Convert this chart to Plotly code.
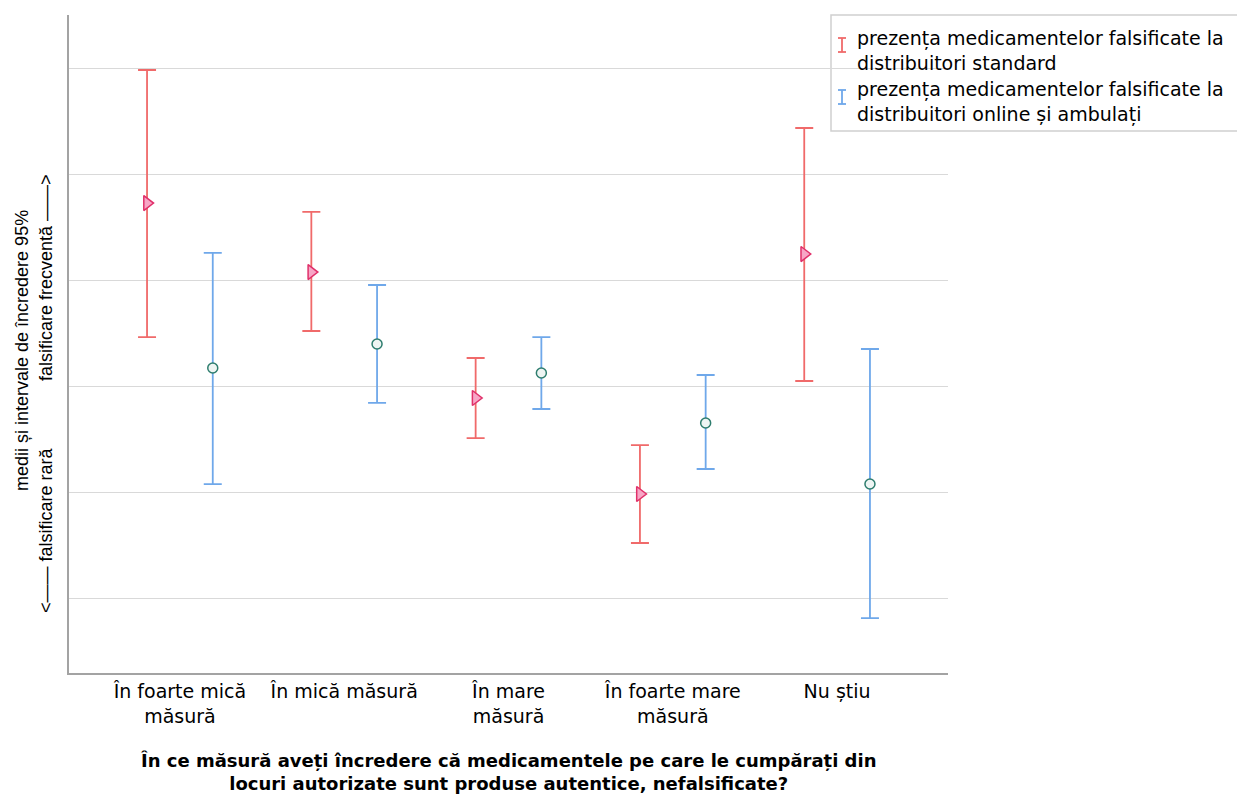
import plotly.graph_objects as go

categories = ["În foarte mică<br>măsură", "În mică măsură", "În mare<br>măsură",
              "În foarte mare<br>măsură", "Nu știu"]
cat_pos = [0, 1, 2, 3, 4]

series_names = ["prezența medicamentelor falsificate la<br>distribuitori standard",
                "prezența medicamentelor falsificate la<br>distribuitori online și ambulați"]

std_mean = [4.726, 4.075, 2.887, 1.981, 4.245]
std_upper = [5.981, 4.642, 3.264, 2.443, 5.434]
std_lower = [3.462, 3.519, 2.509, 1.519, 3.047]

onl_mean = [3.170, 3.396, 3.123, 2.651, 2.075]
onl_upper = [4.255, 3.953, 3.462, 3.104, 3.349]
onl_lower = [2.075, 2.840, 2.783, 2.217, 0.811]

offset = 0.2
RED = "#f06a6a"
BLUE = "#6fa8ea"

fig = go.Figure()

fig.add_trace(go.Scatter(
    x=[p - offset for p in cat_pos], y=std_mean, mode="markers",
    name=series_names[0], showlegend=False,
    marker=dict(symbol="triangle-right", size=13, color="#f7a6c6",
                line=dict(color="#e0306a", width=1.5)),
    error_y=dict(type="data", symmetric=False,
                 array=[u - m for u, m in zip(std_upper, std_mean)],
                 arrayminus=[m - l for m, l in zip(std_mean, std_lower)],
                 color=RED, thickness=1.8, width=9),
))
fig.add_trace(go.Scatter(
    x=[p + offset for p in cat_pos], y=onl_mean, mode="markers",
    name=series_names[1], showlegend=False,
    marker=dict(symbol="circle", size=10, color="#eef5f3",
                line=dict(color="#2e7d6e", width=1.5)),
    error_y=dict(type="data", symmetric=False,
                 array=[u - m for u, m in zip(onl_upper, onl_mean)],
                 arrayminus=[m - l for m, l in zip(onl_mean, onl_lower)],
                 color=BLUE, thickness=1.8, width=9),
))

W, H = 1237, 798
L, R, T, B = 69, W - 948, 15, H - 673
pw, ph = W - L - R, H - T - B

def px(x):
    return (x - L) / pw

def py(y):
    return (H - B - y) / ph

fig.update_layout(
    width=W, height=H,
    margin=dict(l=L, r=R, t=T, b=B),
    paper_bgcolor="white", plot_bgcolor="white",
    showlegend=False,
    font=dict(family="DejaVu Sans", size=19, color="#000000"),
    xaxis=dict(range=[-0.675, 4.675], tickvals=cat_pos, ticktext=categories,
               showgrid=False, zeroline=False, showline=True,
               linecolor="#a3a3a3", linewidth=2, ticks="",
               tickfont=dict(family="DejaVu Sans", size=19, color="#000000")),
    yaxis=dict(range=[0.2925, 6.5], tick0=0, dtick=1, showticklabels=False,
               showgrid=True, gridcolor="#d9d9d9", gridwidth=1,
               zeroline=False, showline=True, linecolor="#a3a3a3",
               linewidth=2, ticks=""),
)

annotations = []
# x-axis title
annotations.append(dict(
    xref="paper", yref="paper", x=0.5, y=py(772), xanchor="center", yanchor="middle",
    text="<b>În ce măsură aveți încredere că medicamentele pe care le cumpărați din<br>"
         "locuri autorizate sunt produse autentice, nefalsificate?</b>",
    showarrow=False, font=dict(family="DejaVu Sans", size=18, color="#000000"),
    align="center"))
# y-axis title
annotations.append(dict(
    xref="paper", yref="paper", x=px(22), y=py(351), xanchor="center", yanchor="middle",
    text="medii și intervale de încredere 95%", textangle=-90, showarrow=False,
    font=dict(family="Liberation Sans", size=18, color="#000000")))
annotations.append(dict(
    xref="paper", yref="paper", x=px(46), y=py(530), xanchor="center", yanchor="middle",
    text="<—— falsificare rară", textangle=-90, showarrow=False,
    font=dict(family="Liberation Sans", size=18, color="#000000")))
annotations.append(dict(
    xref="paper", yref="paper", x=px(46), y=py(278), xanchor="center", yanchor="middle",
    text="falsificare frecventă ——>", textangle=-90, showarrow=False,
    font=dict(family="Liberation Sans", size=18, color="#000000")))

# legend (manual)
leg_colors = [RED, BLUE]
leg_y = [50, 102]
shapes = [dict(type="rect", xref="paper", yref="paper",
               x0=px(831), x1=px(1245), y0=py(131), y1=py(15),
               line=dict(color="#d0d0d0", width=1.5), fillcolor="white", layer="below")]
for name, col, yc in zip(series_names, leg_colors, leg_y):
    top, bot = yc - 12, yc + 2
    shapes.append(dict(type="line", xref="paper", yref="paper",
                       x0=px(842), x1=px(842), y0=py(top), y1=py(bot),
                       line=dict(color=col, width=1.8)))
    for yy in (top, bot):
        shapes.append(dict(type="line", xref="paper", yref="paper",
                           x0=px(838), x1=px(846), y0=py(yy), y1=py(yy),
                           line=dict(color=col, width=1.8)))
    annotations.append(dict(
        xref="paper", yref="paper", x=px(855), y=py(yc), xanchor="left",
        yanchor="middle", text=name, showarrow=False, align="left",
        font=dict(family="DejaVu Sans", size=19, color="#000000")))

fig.update_layout(annotations=annotations, shapes=shapes)

fig.write_html("out.html")
